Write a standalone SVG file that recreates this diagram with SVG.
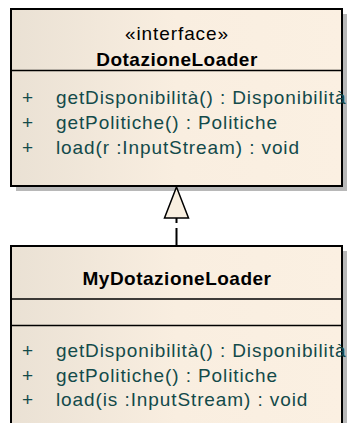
<svg xmlns="http://www.w3.org/2000/svg" width="348" height="423" viewBox="0 0 348 423">
<defs>
<linearGradient id="fill" x1="0" y1="0" x2="1" y2="0">
<stop offset="0" stop-color="#eae1d4"/>
<stop offset="0.5" stop-color="#f9eee0"/>
<stop offset="1" stop-color="#fbf0e2"/>
</linearGradient>
<style>
.box{fill:url(#fill);stroke:#000;stroke-width:2}
.shadow{fill:#b8b8b8}
.sep{stroke:#000;stroke-width:1.5}
.t{font-family:"Liberation Sans",Arial,sans-serif;font-size:19px;letter-spacing:0.9px;fill:#000}
.b{font-family:"Liberation Sans",Arial,sans-serif;font-size:19px;font-weight:bold;letter-spacing:0.5px;fill:#000}
.m{font-family:"Liberation Sans",Arial,sans-serif;font-size:19px;letter-spacing:0.9px;fill:#134a4a}
</style>
</defs>
<rect width="348" height="423" fill="#fff"/>
<g id="DotazioneLoader">
<rect class="shadow" x="16" y="14" width="331" height="177"/>
<rect class="box" x="11" y="9" width="331" height="177"/>
<line class="sep" x1="11" y1="70.5" x2="342" y2="70.5"/>
<text class="t" x="177" y="40" text-anchor="middle">«interface»</text>
<text class="b" x="177" y="66" text-anchor="middle">DotazioneLoader</text>
<text class="m" x="22" y="104">+</text>
<text class="m" x="56" y="104">getDisponibilità() : Disponibilità</text>
<text class="m" x="22" y="129">+</text>
<text class="m" x="56" y="129">getPolitiche() : Politiche</text>
<text class="m" x="22" y="154">+</text>
<text class="m" x="56" y="154">load(r :InputStream) : void</text>
</g>
<g id="MyDotazioneLoader">
<rect class="shadow" x="16" y="251" width="331" height="180"/>
<rect class="box" x="11" y="246" width="331" height="185"/>
<line class="sep" x1="11" y1="299" x2="342" y2="299"/>
<line class="sep" x1="11" y1="325.5" x2="342" y2="325.5"/>
<text class="b" x="177" y="285" text-anchor="middle">MyDotazioneLoader</text>
<text class="m" x="22" y="357">+</text>
<text class="m" x="56" y="357">getDisponibilità() : Disponibilità</text>
<text class="m" x="22" y="381.5">+</text>
<text class="m" x="56" y="381.5">getPolitiche() : Politiche</text>
<text class="m" x="22" y="406">+</text>
<text class="m" x="56" y="406">load(is :InputStream) : void</text>
</g>
<g id="connectors">
<path d="M176.5 246 V218" fill="none" stroke="#000" stroke-width="2" stroke-dasharray="18 5"/>
<polygon points="176.5,187 164.5,218 188.5,218" fill="#f9efe0" stroke="#000" stroke-width="1.5"/>
</g>
</svg>
